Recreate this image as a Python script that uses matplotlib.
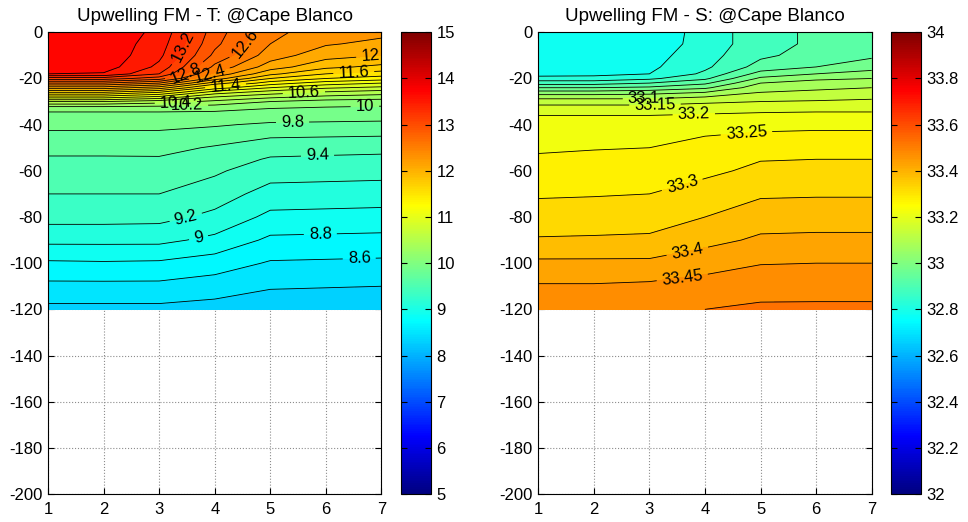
import numpy as np
import matplotlib.pyplot as plt
from matplotlib import colors, cm

plt.rcParams['font.family'] = ['Liberation Sans', 'DejaVu Sans']
plt.rcParams['axes.unicode_minus'] = False

# stations (x) and depths (m)
station = [1, 2, 3, 4, 5, 6, 7]
depth = [0, -5, -10, -15, -18, -20, -22, -24, -26, -28, -30, -33, -36, -40,
         -45, -50, -55, -60, -70, -80, -90, -100, -110, -120]

# temperature profiles per station
temp_st1 = [13.75, 13.75, 13.75, 13.72, 13.6, 13.1, 12.6, 12.1, 11.6, 11.1, 10.6, 10.05,
            9.95, 9.85, 9.75, 9.65, 9.58, 9.52, 9.4, 9.27, 9.05, 8.77, 8.55, 8.35]
temp_st2 = [13.74, 13.74, 13.74, 13.7, 13.58, 13.1, 12.6, 12.1, 11.6, 11.1, 10.6, 10.05,
            9.95, 9.85, 9.75, 9.65, 9.58, 9.52, 9.4, 9.27, 9.05, 8.78, 8.55, 8.35]
temp_st3 = [13.55, 13.5, 13.45, 13.35, 13.2, 12.9, 12.4, 11.9, 11.4, 10.95, 10.5, 10.05,
            9.95, 9.85, 9.75, 9.66, 9.58, 9.52, 9.4, 9.26, 9.05, 8.77, 8.55, 8.35]
temp_st4 = [12.9, 12.85, 12.75, 12.55, 12.35, 12.1, 11.7, 11.3, 10.9, 10.6, 10.35, 10.05,
            9.93, 9.82, 9.7, 9.58, 9.5, 9.43, 9.3, 9.15, 8.95, 8.7, 8.5, 8.32]
temp_st5 = [12.45, 12.4, 12.3, 12.1, 11.85, 11.6, 11.3, 11.0, 10.7, 10.45, 10.2, 10.0,
            9.9, 9.77, 9.62, 9.48, 9.38, 9.29, 9.12, 8.95, 8.76, 8.58, 8.42, 8.27]
temp_st6 = [12.3, 12.22, 12.08, 11.85, 11.6, 11.4, 11.1, 10.83, 10.57, 10.35, 10.12, 9.97,
            9.89, 9.76, 9.61, 9.46, 9.37, 9.28, 9.11, 8.94, 8.75, 8.57, 8.41, 8.26]
temp_st7 = [12.25, 12.15, 12.0, 11.75, 11.5, 11.3, 11.0, 10.75, 10.5, 10.3, 10.1, 9.95,
            9.88, 9.75, 9.6, 9.45, 9.36, 9.27, 9.1, 8.93, 8.74, 8.56, 8.4, 8.25]

# salinity profiles per station
sal_st1 = [32.76, 32.76, 32.76, 32.765, 32.78, 32.82, 32.88, 32.95, 33.02, 33.08, 33.13, 33.17,
           33.2, 33.22, 33.235, 33.245, 33.255, 33.27, 33.295, 33.32, 33.355, 33.41, 33.455, 33.49]
sal_st2 = [32.76, 32.76, 32.765, 32.77, 32.785, 32.82, 32.88, 32.95, 33.02, 33.08, 33.13, 33.17,
           33.2, 33.22, 33.237, 33.248, 33.258, 33.272, 33.297, 33.322, 33.357, 33.41, 33.455, 33.49]
sal_st3 = [32.765, 32.77, 32.78, 32.79, 32.8, 32.84, 32.9, 32.96, 33.03, 33.08, 33.13, 33.17,
           33.2, 33.22, 33.24, 33.25, 33.262, 33.275, 33.3, 33.325, 33.36, 33.41, 33.46, 33.495]
sal_st4 = [32.82, 32.82, 32.83, 32.84, 32.86, 32.89, 32.94, 32.99, 33.05, 33.1, 33.14, 33.18,
           33.205, 33.23, 33.25, 33.265, 33.28, 33.29, 33.32, 33.35, 33.385, 33.43, 33.47, 33.5]
sal_st5 = [32.88, 32.88, 32.89, 32.92, 32.97, 33.01, 33.05, 33.08, 33.1, 33.12, 33.15, 33.185,
           33.21, 33.237, 33.258, 33.278, 33.298, 33.31, 33.343, 33.378, 33.408, 33.448, 33.478, 33.51]
sal_st6 = [32.91, 32.91, 32.92, 32.95, 33.0, 33.04, 33.07, 33.09, 33.11, 33.13, 33.155, 33.19,
           33.21, 33.24, 33.26, 33.28, 33.3, 33.31, 33.345, 33.38, 33.41, 33.45, 33.48, 33.51]
sal_st7 = [32.93, 32.93, 32.94, 32.98, 33.02, 33.05, 33.08, 33.1, 33.12, 33.14, 33.16, 33.19,
           33.21, 33.24, 33.26, 33.28, 33.3, 33.31, 33.345, 33.38, 33.41, 33.45, 33.48, 33.51]

temp = np.column_stack([temp_st1, temp_st2, temp_st3, temp_st4, temp_st5, temp_st6, temp_st7])
sal = np.column_stack([sal_st1, sal_st2, sal_st3, sal_st4, sal_st5, sal_st6, sal_st7])
X, Z = np.meshgrid(station, depth)

temp_levels = np.round(np.arange(8.0, 14.01, 0.2), 2)
sal_levels = np.round(np.arange(32.6, 33.61, 0.05), 2)

# where the inline contour labels sit
temp_labels = {13.2: (3.5, -7), 12.6: (4.6, -6), 12.8: (3.55, -21), 12.4: (3.95, -22),
               11.4: (4.2, -25), 12.0: (6.8, -10), 11.6: (6.5, -17), 10.6: (5.6, -24),
               10.0: (6.7, -31), 10.4: (3.3, -30), 10.2: (3.5, -31.5), 9.8: (5.4, -39),
               9.4: (5.85, -54), 9.2: (3.45, -77), 9.0: (3.7, -88), 8.8: (5.9, -88),
               8.6: (6.6, -98.5)}
sal_labels = {33.1: (2.9, -31), 33.15: (3.1, -31.5), 33.2: (3.8, -37), 33.25: (4.75, -45),
              33.3: (3.6, -67), 33.4: (3.7, -97), 33.45: (3.6, -108)}

# MATLAB-style jet
matlab_jet = colors.LinearSegmentedColormap('matlab_jet', {
    'red':   [(0, 0, 0), (0.375, 0, 0), (0.625, 1, 1), (0.875, 1, 1), (1, 0.5, 0.5)],
    'green': [(0, 0, 0), (0.125, 0, 0), (0.375, 1, 1), (0.625, 1, 1), (0.875, 0, 0), (1, 0, 0)],
    'blue':  [(0, 0.5, 0.5), (0.125, 1, 1), (0.375, 1, 1), (0.625, 0, 0), (1, 0, 0)],
}, N=256)

fig = plt.figure(figsize=(9.68, 5.22), dpi=100)


def draw_panel(rect, crect, field, levels, vmin, vmax, cticks, title, labels):
    ax = fig.add_axes(rect)
    norm = colors.Normalize(vmin, vmax)
    ax.contourf(X, Z, field, levels=levels, cmap=matlab_jet, norm=norm)
    plain = [l for l in levels if not any(abs(l - k) < 1e-6 for k in labels)]
    ax.contour(X, Z, field, levels=plain, colors='k', linewidths=0.6)
    ax.set_xlim(1, 7)
    ax.set_ylim(-200, 0)
    ax.set_xticks(range(1, 8))
    ax.set_yticks(range(-200, 1, 20))
    ax.set_axisbelow(True)
    ax.grid(True, linestyle=':', color='0.55', linewidth=0.8)
    ax.tick_params(direction='in', length=4, top=True, right=True, labelsize=12, pad=4)
    ax.tick_params(axis='x', pad=6)
    ax.set_title(title, fontsize=13.5, pad=8)
    # labelled levels get their own contour set so each label lands on its line
    for lvl, pos in labels.items():
        cs = ax.contour(X, Z, field, levels=[lvl], colors='k', linewidths=0.6)
        ax.clabel(cs, manual=[pos], inline=True, fontsize=12,
                  fmt=lambda v: f"{round(v, 2):g}")

    cax = fig.add_axes(crect)
    cb = fig.colorbar(cm.ScalarMappable(norm=norm, cmap=matlab_jet), cax=cax)
    cb.set_ticks(cticks)
    cb.set_ticklabels([f"{t:g}" for t in cticks])
    cax.tick_params(direction='in', length=4, left=True, right=True, labelsize=12, pad=4)
    return ax


draw_panel([0.0496, 0.0536, 0.3445, 0.8845], [0.414, 0.0536, 0.031, 0.8845],
           temp, temp_levels, 5, 15, list(range(5, 16)),
           'Upwelling FM - T: @Cape Blanco', temp_labels)
draw_panel([0.5561, 0.0536, 0.3444, 0.8845], [0.9201, 0.0536, 0.031, 0.8845],
           sal, sal_levels, 32, 34, list(np.round(np.arange(32, 34.01, 0.2), 1)),
           'Upwelling FM - S: @Cape Blanco', sal_labels)

fig.savefig('out.png', dpi=100)
